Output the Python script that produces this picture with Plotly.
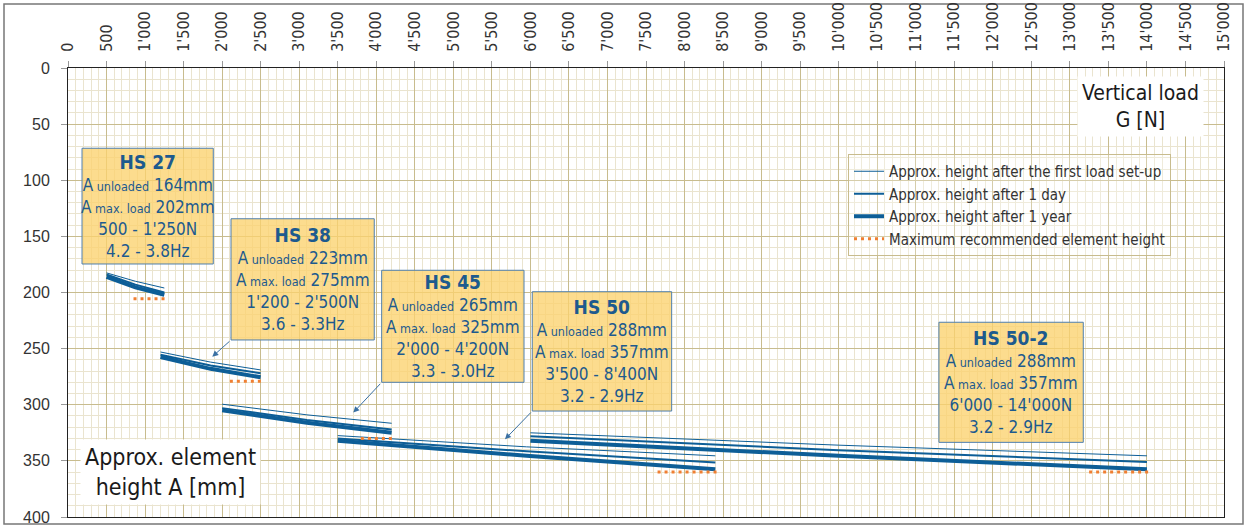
import plotly.graph_objects as go

# ---------------- data ----------------
products = ["HS 27", "HS 38", "HS 45", "HS 50", "HS 50-2"]
a_unloaded = [164, 223, 265, 288, 288]
a_max_load = [202, 275, 325, 357, 357]
load_ranges = ["500 - 1'250", "1'200 - 2'500", "2'000 - 4'200", "3'500 - 8'400", "6'000 - 14'000"]
freq_ranges = ["4.2 - 3.8", "3.6 - 3.3", "3.3 - 3.0", "3.2 - 2.9", "3.2 - 2.9"]

load_points = [[500, 875, 1250], [1200, 1850, 2500], [2000, 3100, 4200],
               [3500, 5950, 8400], [6000, 10000, 14000]]
h_first_setup = [[182.5, 190, 196], [253, 262, 269], [299.5, 309, 316.5],
                 [327.5, 337.5, 345.5], [325, 336, 345.5]]
h_after_1_day = [[184, 193, 200], [255.5, 265, 272], [303, 313.5, 322],
                 [330, 341.5, 351.5], [328, 340.5, 351]]
h_after_1_year = [[186, 195.5, 202], [257.5, 268, 275.5], [305, 316, 325],
                  [332, 345.5, 357.5], [332, 345.5, 357.5]]
max_height_load = [[850, 1300], [2100, 2550], [3800, 4250], [7650, 8450], [13250, 14050]]
max_height = [205.5, 279, 330, 360, 360]

x_tickvals = list(range(0, 15001, 500))
x_ticktext = ["0", "500", "1'000", "1'500", "2'000", "2'500", "3'000", "3'500", "4'000",
              "4'500", "5'000", "5'500", "6'000", "6'500", "7'000", "7'500", "8'000",
              "8'500", "9'000", "9'500", "10'000", "10'500", "11'000", "11'500", "12'000",
              "12'500", "13'000", "13'500", "14'000", "14'500", "15'000"]
y_tickvals = [0, 50, 100, 150, 200, 250, 300, 350, 400]

legend_names = ["Approx. height after the first load set-up", "Approx. height after 1 day",
                "Approx. height after 1 year", "Maximum recommended element height"]

# ---------------- style ----------------
W, H = 1246, 527
L, R, T, B = 68, 22, 68, 10
NARROW = "Liberation Sans Narrow, Arial Narrow, DejaVu Sans Condensed, sans-serif"
REG = "Liberation Sans, Arial, sans-serif"
BLUE = "#0d5e97"
ORANGE = "#f07f32"
TXT_BLUE = "#1d5a8e"
MAJ = "rgb(200,188,142)"
MIN = "rgb(234,228,207)"


def join(xs_list, ys_list):
    xs, ys = [], []
    for xs_i, ys_i in zip(xs_list, ys_list):
        xs += list(xs_i) + [None]
        ys += list(ys_i) + [None]
    return xs, ys


fig = go.Figure()
for name, series, lw in [(legend_names[0], h_first_setup, 1),
                         (legend_names[1], h_after_1_day, 2),
                         (legend_names[2], h_after_1_year, 4)]:
    xs, ys = join(load_points, series)
    fig.add_trace(go.Scatter(x=xs, y=ys, mode="lines", name=name,
                             line=dict(color=BLUE, width=lw), hoverinfo="skip"))
xs, ys = join(max_height_load, [[h, h] for h in max_height])
fig.add_trace(go.Scatter(x=xs, y=ys, mode="lines", name=legend_names[3],
                         line=dict(color=ORANGE, width=3, dash="3px,4px"), hoverinfo="skip"))

# info boxes (layout positions in data coordinates)
box_pos = [(182, 1885, 71.5, 174.6), (2115, 3974, 134.3, 242.3), (4070, 5917, 180.2, 280),
           (6024, 7833, 199.3, 305.6), (11301, 13174, 226.5, 333.5)]
shapes = []
annotations = []
for i, (x0, x1, y0, y1) in enumerate(box_pos):
    shapes.append(dict(type="rect", xref="x", yref="y", x0=x0, x1=x1, y0=y0, y1=y1,
                       fillcolor="rgba(251,210,110,0.78)", line=dict(color="#4f7fae", width=1),
                       layer="above"))
    txt = (f"<span style='font-size:19px'><b>{products[i]}</b></span><br>"
           f"A<span style='font-size:12.5px'> unloaded</span> {a_unloaded[i]}mm<br>"
           f"A<span style='font-size:12.5px'> max. load</span> {a_max_load[i]}mm<br>"
           f"{load_ranges[i]}N<br>{freq_ranges[i]}Hz")
    annotations.append(dict(x=(x0 + x1) / 2, y=(y0 + y1) / 2, xref="x", yref="y",
                            text=txt, showarrow=False, xanchor="center", yanchor="middle",
                            font=dict(family=NARROW, size=17, color=TXT_BLUE), align="center"))

# arrows (tail -> head) in data coords
arrows = [((2115, 242.3), (1872, 257.2)), ((4070, 280), (3702, 307)), ((6024, 305.6), (5670, 330.8))]
for (tx, ty), (hx, hy) in arrows:
    annotations.append(dict(x=hx, y=hy, ax=tx, ay=ty, xref="x", yref="y", axref="x", ayref="y",
                            text="", showarrow=True, arrowhead=2, arrowsize=1.2, arrowwidth=1,
                            arrowcolor="#3a70a3"))

pw, ph = W - L - R, H - T - B


def px(xp):
    return (xp - L) / pw


def py(yp):
    return 1 - (yp - T) / ph


# axis title boxes
annotations.append(dict(x=px(1140), y=py(106), xref="paper", yref="paper",
                        text="Vertical load<br>G [N]", showarrow=False,
                        xanchor="center", yanchor="middle", bgcolor="white", borderpad=4,
                        font=dict(family=NARROW, size=21, color="#1a1a1a")))
annotations.append(dict(x=px(170), y=py(472), xref="paper", yref="paper",
                        text="Approx. element<br>height A [mm]", showarrow=False,
                        xanchor="center", yanchor="middle", bgcolor="white", borderpad=4,
                        font=dict(family=NARROW, size=23, color="#1a1a1a")))

# outer frame
shapes.append(dict(type="rect", xref="paper", yref="paper", x0=px(4), x1=px(1243),
                   y0=py(524), y1=py(4), line=dict(color="#777", width=1.5), layer="below"))

fig.update_layout(
    width=W, height=H, margin=dict(l=L, r=R, t=T, b=B, autoexpand=False),
    paper_bgcolor="white", plot_bgcolor="white",
    shapes=shapes, annotations=annotations,
    showlegend=True,
    legend=dict(x=px(848), y=py(154), xanchor="left", yanchor="top",
                bgcolor="rgba(255,255,255,0.25)", bordercolor=MAJ, borderwidth=1,
                font=dict(family=NARROW, size=15, color="#333"), itemwidth=30,
                tracegroupgap=0),
    xaxis=dict(range=[0, 15000], side="top", tickvals=x_tickvals, ticktext=x_ticktext,
               tickangle=-90, tickfont=dict(family=NARROW, size=16, color="#333"),
               showgrid=True, gridcolor=MAJ, gridwidth=1, zeroline=False,
               showline=True, linecolor="#222", linewidth=1, mirror=True,
               ticks="outside", ticklen=6, tickcolor="#999", ticklabelstandoff=6,
               minor=dict(dtick=100, showgrid=True, gridcolor=MIN, gridwidth=1, ticks=""),
               fixedrange=True),
    yaxis=dict(range=[400, 0], tickvals=y_tickvals,
               tickfont=dict(family=REG, size=16, color="#333"),
               showgrid=True, gridcolor=MAJ, gridwidth=1, zeroline=False,
               showline=True, linecolor="#222", linewidth=1, mirror=True,
               ticks="outside", ticklen=6, tickcolor="#999", ticklabelstandoff=8,
               minor=dict(dtick=10, showgrid=True, gridcolor=MIN, gridwidth=1, ticks=""),
               fixedrange=True),
)

fig.write_html("out.html", config={"displayModeBar": False},
               post_script="document.body.style.margin='0';document.body.style.overflow='hidden';")
